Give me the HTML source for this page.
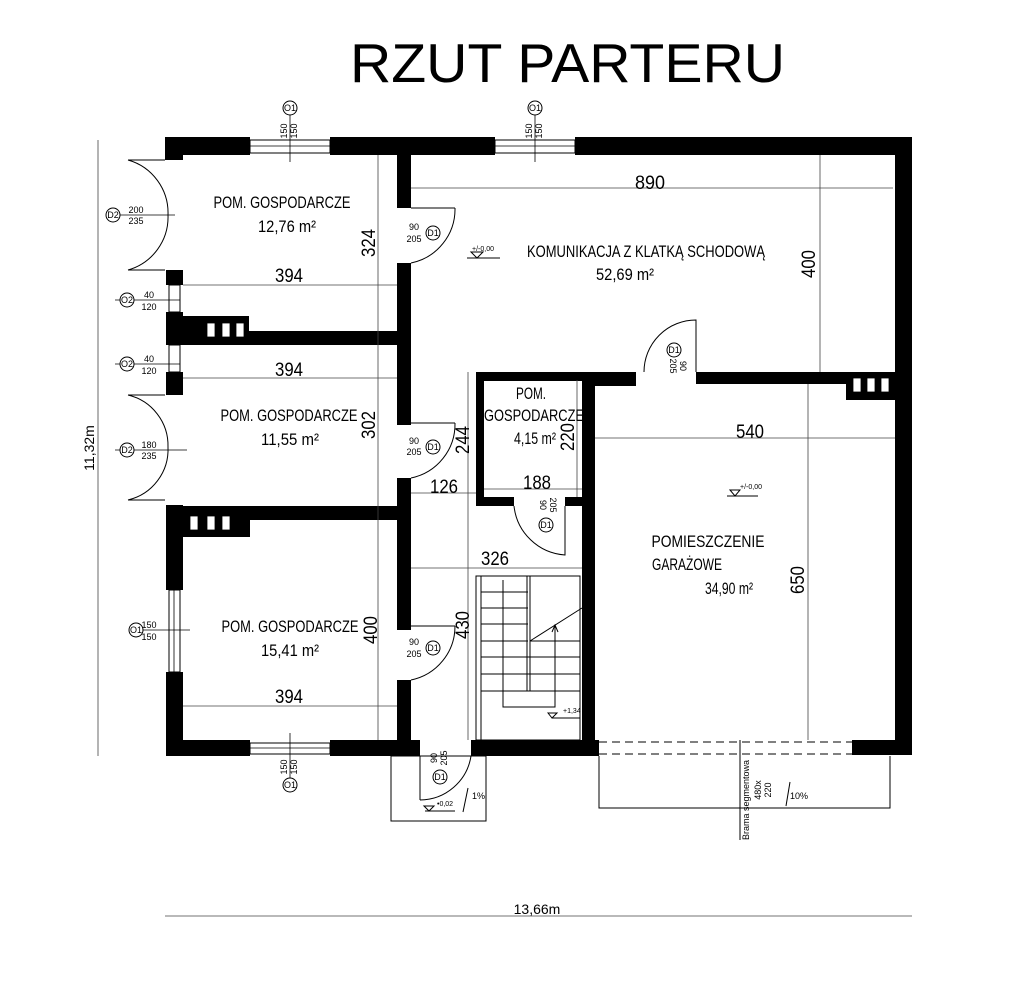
<!DOCTYPE html>
<html><head><meta charset="utf-8"><style>
html,body{margin:0;padding:0;background:#fff;}
svg{display:block;}
text{font-family:"Liberation Sans",sans-serif;fill:#000;}
.rl{font-size:17px;}
.dm{font-size:19px;fill:#333;}
.sm{font-size:9px;}
</style></head><body>
<svg width="1032" height="991" viewBox="0 0 1032 991" xmlns="http://www.w3.org/2000/svg">
<rect width="1032" height="991" fill="#fff"/>
<text x="350" y="82" font-size="55" textLength="435" lengthAdjust="spacingAndGlyphs">RZUT PARTERU</text>

<g fill="#000">
<rect x="165" y="137" width="85" height="18"/>
<rect x="330" y="137" width="165" height="18"/>
<rect x="575" y="137" width="337" height="18"/>
<rect x="895" y="137" width="17" height="618"/>
<rect x="165" y="137" width="18" height="23"/>
<rect x="166" y="270" width="17" height="15"/>
<rect x="166" y="312" width="17" height="33"/>
<rect x="166" y="372" width="17" height="23"/>
<rect x="166" y="505" width="17" height="85"/>
<rect x="166" y="672" width="17" height="84"/>
<rect x="166" y="740" width="84" height="16"/>
<rect x="330" y="740" width="90" height="16"/>
<rect x="471" y="740" width="128" height="16"/>
<rect x="852" y="740" width="60" height="15"/>
<rect x="397" y="155" width="14" height="53"/>
<rect x="397" y="263" width="14" height="162"/>
<rect x="397" y="478" width="14" height="152"/>
<rect x="397" y="680" width="14" height="60"/>
<rect x="183" y="331" width="228" height="14"/>
<rect x="183" y="316" width="66" height="29"/>
<rect x="183" y="506" width="228" height="14"/>
<rect x="183" y="506" width="67" height="31"/>
<rect x="476" y="372" width="160" height="9"/>
<rect x="476" y="372" width="8" height="134"/>
<rect x="476" y="497" width="38" height="9"/>
<rect x="565" y="497" width="17" height="9"/>
<rect x="582" y="372" width="13" height="383"/>
<rect x="582" y="372" width="54" height="14"/>
<rect x="696" y="372" width="199" height="12"/>
<rect x="846" y="372" width="49" height="28"/>
</g>
<g fill="#fff" stroke="#000" stroke-width="0.8">
<rect x="207" y="323" width="8" height="14"/><rect x="222" y="323" width="8" height="14"/><rect x="236" y="323" width="8" height="14"/>
<rect x="190" y="516" width="8" height="14"/><rect x="207" y="516" width="8" height="14"/><rect x="222" y="516" width="8" height="14"/>
<rect x="853" y="378" width="8" height="14"/><rect x="867" y="378" width="8" height="14"/><rect x="881" y="378" width="8" height="14"/>
</g>
<g fill="#fff" stroke="#000" stroke-width="1">
<rect x="250" y="140" width="80" height="13"/>
<rect x="495" y="140" width="80" height="13"/>
<rect x="250" y="743" width="80" height="11"/>
<rect x="169" y="590" width="11" height="82"/>
<rect x="169" y="285" width="11" height="27"/>
<rect x="169" y="345" width="11" height="27"/>
</g>
<g stroke="#000" stroke-width="0.8" fill="none">
<line x1="250" y1="146" x2="330" y2="146"/><line x1="495" y1="146" x2="575" y2="146"/>
<line x1="250" y1="748" x2="330" y2="748"/><line x1="174" y1="590" x2="174" y2="672"/>
<line x1="290" y1="115" x2="290" y2="162"/><line x1="535" y1="115" x2="535" y2="162"/>
<line x1="290" y1="733" x2="290" y2="778"/>
<line x1="143" y1="630" x2="190" y2="630"/>
<line x1="110" y1="215" x2="175" y2="215"/>
<line x1="115" y1="300" x2="180" y2="300"/><line x1="115" y1="364" x2="180" y2="364"/>
<line x1="115" y1="450" x2="187" y2="450"/>
</g>
<g fill="#fff" stroke="#000" stroke-width="1">
<circle cx="290" cy="108" r="7"/><circle cx="535" cy="108" r="7"/><circle cx="290" cy="785" r="7"/>
<circle cx="136" cy="630" r="7"/><circle cx="113" cy="215" r="7"/><circle cx="127" cy="300" r="7"/>
<circle cx="127" cy="364" r="7"/><circle cx="127" cy="450" r="7"/>
<circle cx="433" cy="233" r="7"/><circle cx="433" cy="447" r="7"/><circle cx="433" cy="648" r="7"/>
<circle cx="546" cy="525" r="7"/><circle cx="674" cy="350" r="7"/><circle cx="440" cy="777" r="7"/>
</g>
<g class="sm" text-anchor="middle">
<text x="290" y="111">O1</text><text x="535" y="111">O1</text><text x="290" y="788">O1</text>
<text x="136" y="633">O1</text><text x="113" y="218">D2</text><text x="127" y="303">O2</text>
<text x="127" y="367">O2</text><text x="127" y="453">D2</text>
<text x="433" y="236">D1</text><text x="433" y="450">D1</text><text x="433" y="651">D1</text>
<text x="546" y="528">D1</text><text x="674" y="353">D1</text><text x="440" y="780">D1</text>
<text x="149" y="628">150</text><text x="149" y="640">150</text>
<text x="136" y="213">200</text><text x="136" y="224">235</text>
<text x="149" y="298">40</text><text x="149" y="310">120</text>
<text x="149" y="362">40</text><text x="149" y="374">120</text>
<text x="149" y="448">180</text><text x="149" y="459">235</text>
<text x="414" y="230">90</text><text x="414" y="242">205</text>
<text x="414" y="444">90</text><text x="414" y="455">205</text>
<text x="414" y="645">90</text><text x="414" y="657">205</text>
</g>
<g class="sm" text-anchor="middle">
<text transform="translate(287,131) rotate(-90)">150</text><text transform="translate(297,131) rotate(-90)">150</text>
<text transform="translate(532,131) rotate(-90)">150</text><text transform="translate(542,131) rotate(-90)">150</text>
<text transform="translate(287,767) rotate(-90)">150</text><text transform="translate(297,767) rotate(-90)">150</text>
<text transform="translate(437,758) rotate(-90)">90</text><text transform="translate(447,758) rotate(-90)">205</text>
<text transform="translate(540,505) rotate(90)">90</text><text transform="translate(550,505) rotate(90)">205</text>
<text transform="translate(670,366) rotate(90)">205</text><text transform="translate(680,366) rotate(90)">90</text>
<text transform="translate(749,800) rotate(-90)">Brama segmentowa</text>
<text transform="translate(761,790) rotate(-90)">480x</text><text transform="translate(771,790) rotate(-90)">220</text>
</g>
<g stroke="#000" stroke-width="1" fill="none">
<path d="M128 160 L165 160 M128 270 L165 270"/>
<path d="M128 160 A55 55 0 0 1 168 215 A55 55 0 0 1 128 270"/>
<path d="M128 395 L165 395 M128 500 L165 500"/>
<path d="M128 395 A52 52 0 0 1 168 447 A52 52 0 0 1 128 500"/>
<path d="M411 208 L455 208 M455 208 A55 55 0 0 1 411 263"/>
<path d="M411 423 L455 423 M455 423 A55 55 0 0 1 411 478"/>
<path d="M411 626 L455 626 M455 626 A55 55 0 0 1 411 680"/>
<path d="M644 372 A52 52 0 0 1 696 320 L696 372"/>
<path d="M514 506 A55 55 0 0 0 565 555 L565 506"/>
<path d="M420 756 L420 800 M420 800 A52 52 0 0 0 471 756"/>
<rect x="391" y="756" width="95" height="65"/>
<path d="M599 756 L599 808 L890 808 L890 756"/>
<path d="M599 742 L852 742 M599 754 L852 754" stroke-dasharray="8,5"/>
<line x1="740" y1="740" x2="740" y2="840"/>
<rect x="476" y="576" width="104" height="164"/>
<rect x="476" y="576" width="5" height="164"/>
<rect x="527" y="576" width="3" height="115"/>
<path d="M481 592 L528 592 M481 608 L528 608 M481 624 L528 624 M481 641 L528 641 M481 657 L580 657 M481 674 L580 674 M481 691 L580 691 M530 641 L580 641 M530 641 L582 608"/>
<path d="M503 580 L503 707 L555 707 L555 625 M552 632 L555 625 L558 632"/>
<path d="M467 258 L500 258 M471 252 L477 258 L483 252 Z"/>
<path d="M552 718 L580 718 M548 713 L552 718 L557 713 Z"/>
<path d="M425 811 L455 811 M424 806 L429 811 L434 806 Z"/>
<path d="M727 496 L758 496 M730 490 L735 496 L740 490 Z"/>
<path d="M468 788 L463 812 M790 782 L786 806"/>
</g>
<g class="sm">
<text x="472" y="251" font-size="7">+/-0,00</text>
<text x="740" y="489" font-size="7">+/-0,00</text>
<text x="563" y="713" font-size="7">+1,34</text>
<text x="437" y="806" font-size="7">•0,02</text>
<text x="472" y="799">1%</text><text x="790" y="799">10%</text>
</g>
<g stroke="#444" stroke-width="0.8" fill="none">
<line x1="411" y1="188" x2="893" y2="188"/>
<line x1="820" y1="155" x2="820" y2="372"/>
<line x1="378" y1="155" x2="378" y2="740"/>
<line x1="183" y1="285" x2="397" y2="285"/>
<line x1="183" y1="378" x2="397" y2="378"/>
<line x1="183" y1="706" x2="397" y2="706"/>
<line x1="468" y1="372" x2="468" y2="740"/>
<line x1="577" y1="380" x2="577" y2="497"/>
<line x1="484" y1="489" x2="582" y2="489"/>
<line x1="411" y1="493" x2="476" y2="493"/>
<line x1="411" y1="568" x2="582" y2="568"/>
<line x1="595" y1="438" x2="895" y2="438"/>
<line x1="808" y1="384" x2="808" y2="740"/>
<line x1="98" y1="140" x2="98" y2="756"/>
<line x1="165" y1="916" x2="912" y2="916"/>
</g>
<g class="dm" text-anchor="middle">
<text x="650" y="189" textLength="30" lengthAdjust="spacingAndGlyphs">890</text>
<text x="289" y="282" textLength="28" lengthAdjust="spacingAndGlyphs">394</text>
<text x="289" y="376" textLength="28" lengthAdjust="spacingAndGlyphs">394</text>
<text x="289" y="703" textLength="28" lengthAdjust="spacingAndGlyphs">394</text>
<text x="444" y="493" textLength="28" lengthAdjust="spacingAndGlyphs">126</text>
<text x="537" y="489" textLength="28" lengthAdjust="spacingAndGlyphs">188</text>
<text x="495" y="565" textLength="28" lengthAdjust="spacingAndGlyphs">326</text>
<text x="750" y="438" textLength="28" lengthAdjust="spacingAndGlyphs">540</text>
<text x="537" y="914" font-size="14">13,66m</text>
<text transform="translate(815,264) rotate(-90)" textLength="28" lengthAdjust="spacingAndGlyphs">400</text>
<text transform="translate(375,243) rotate(-90)" textLength="28" lengthAdjust="spacingAndGlyphs">324</text>
<text transform="translate(375,425) rotate(-90)" textLength="28" lengthAdjust="spacingAndGlyphs">302</text>
<text transform="translate(377,630) rotate(-90)" textLength="28" lengthAdjust="spacingAndGlyphs">400</text>
<text transform="translate(469,440) rotate(-90)" textLength="28" lengthAdjust="spacingAndGlyphs">244</text>
<text transform="translate(469,625) rotate(-90)" textLength="28" lengthAdjust="spacingAndGlyphs">430</text>
<text transform="translate(574,437) rotate(-90)" textLength="28" lengthAdjust="spacingAndGlyphs">220</text>
<text transform="translate(804,580) rotate(-90)" textLength="28" lengthAdjust="spacingAndGlyphs">650</text>
<text transform="translate(94,448) rotate(-90)" font-size="14">11,32m</text>
</g>
<g class="rl" text-anchor="middle">
<text x="282" y="208" textLength="137" lengthAdjust="spacingAndGlyphs">POM. GOSPODARCZE</text><text x="287" y="232" textLength="58" lengthAdjust="spacingAndGlyphs">12,76 m²</text>
<text x="289" y="421" textLength="137" lengthAdjust="spacingAndGlyphs">POM. GOSPODARCZE</text><text x="290" y="445" textLength="58" lengthAdjust="spacingAndGlyphs">11,55 m²</text>
<text x="290" y="632" textLength="137" lengthAdjust="spacingAndGlyphs">POM. GOSPODARCZE</text><text x="290" y="656" textLength="58" lengthAdjust="spacingAndGlyphs">15,41 m²</text>
<text x="646" y="257" textLength="238" lengthAdjust="spacingAndGlyphs">KOMUNIKACJA Z KLATKĄ SCHODOWĄ</text><text x="625" y="280" textLength="58" lengthAdjust="spacingAndGlyphs">52,69 m²</text>
<text x="531" y="399" textLength="30" lengthAdjust="spacingAndGlyphs">POM.</text>
<text x="534" y="421" textLength="100" lengthAdjust="spacingAndGlyphs">GOSPODARCZE</text>
<text x="535" y="444" textLength="42" lengthAdjust="spacingAndGlyphs">4,15 m²</text>
<text x="708" y="547" textLength="113" lengthAdjust="spacingAndGlyphs">POMIESZCZENIE</text>
<text x="687" y="570" textLength="70" lengthAdjust="spacingAndGlyphs">GARAŻOWE</text>
<text x="729" y="594" textLength="48" lengthAdjust="spacingAndGlyphs">34,90 m²</text>
</g>
</svg>
</body></html>
